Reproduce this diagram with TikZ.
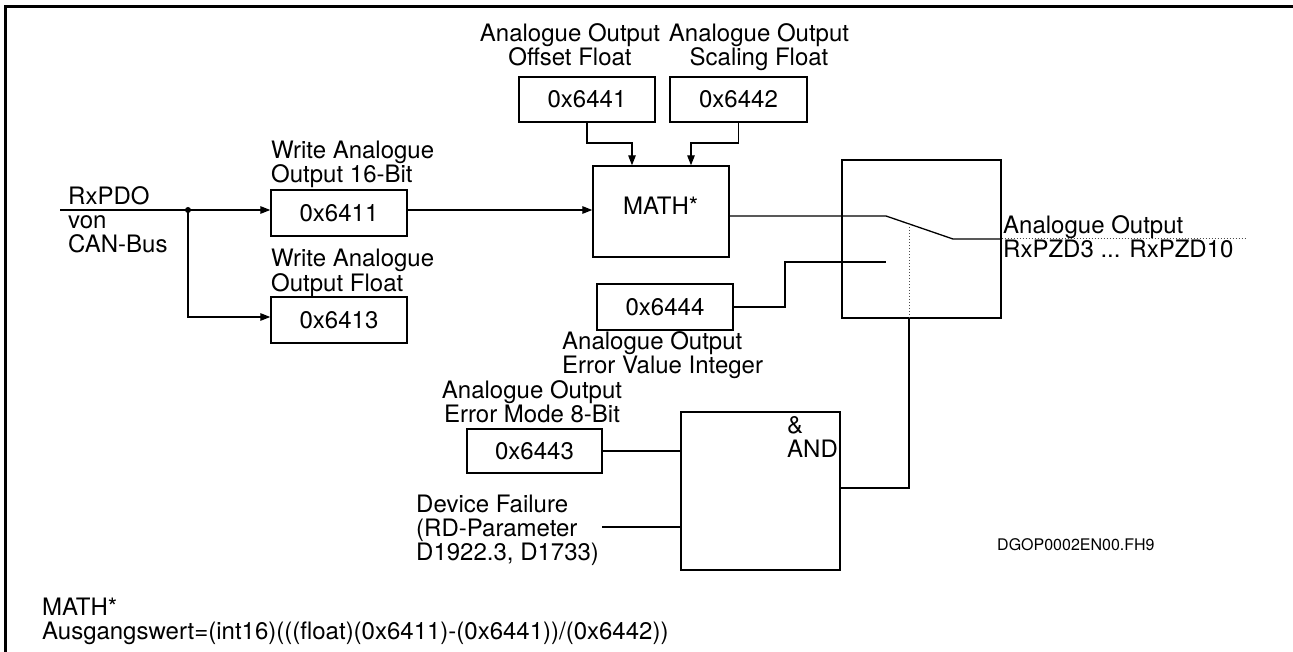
\documentclass[tikz,border=0pt]{standalone}
\usepackage{fontspec}
\setmainfont{TeX Gyre Heros}
\usetikzlibrary{arrows.meta}
\tikzset{
  every node/.style={font=\fontsize{24}{24}\selectfont},
  box/.style={draw, line width=1.4pt, inner sep=0pt, minimum width=136pt, minimum height=46pt},
  lbl/.style={inner sep=0pt, anchor=base west},
  lblc/.style={inner sep=0pt, anchor=base},
  wire/.style={line width=1.3pt},
  arr/.style={wire, -{Triangle[length=10pt,width=7.5pt]}},
  dots/.style={line width=1pt, dash pattern=on 1.2pt off 1.8pt, black!70},
  frame/.style={line width=3pt},
}
\begin{document}
\begin{tikzpicture}[x=1pt, y=-1pt]
\useasboundingbox (0,0) rectangle (1293,652);
% outer frame
\draw[frame] (5,660) -- (5,7) -- (1300,7);

% boxes
\node[box] (b6411) at (339,213) {0x6411};
\node[box] (b6413) at (339,320) {0x6413};
\node[box, minimum height=45pt] (b6441) at (587,99.5) {0x6441};
\node[box, minimum width=137pt, minimum height=45pt] (b6442) at (738.5,99.5) {0x6442};
\node[box, minimum height=91pt] (math) at (661,211.5) {};
\node[box] (b6444) at (665,307) {0x6444};
\node[box, minimum width=159pt, minimum height=158pt] (sw) at (921.5,239) {};
\node[box, minimum width=159pt, minimum height=158pt] (and) at (760.5,491) {};
\node[box, minimum width=135pt, minimum height=44pt] (b6443) at (534.5,451) {0x6443};

% texts
\node[lbl] (t1a) at (68,205) {RxPDO};
\node[lbl] (t1b) at (68,229) {von};
\node[lbl] (t1c) at (68,253) {CAN-Bus};
\node[lbl] (t2a) at (271,159) {Write Analogue};
\node[lbl] (t2b) at (271,183) {Output 16-Bit};
\node[lbl] (t3a) at (271,267) {Write Analogue};
\node[lbl] (t3b) at (271,291) {Output Float};
\node[lblc] (t4a) at (570,42) {Analogue Output};
\node[lblc] (t4b) at (570,66) {Offset Float};
\node[lblc] (t5a) at (759,42) {Analogue Output};
\node[lblc] (t5b) at (759,66) {Scaling Float};
\node[lbl] (tmath) at (623,215) {MATH*};
\node[lbl] (t6a) at (562,349) {Analogue Output};
\node[lbl] (t6b) at (562,373) {Error Value Integer};
\node[lblc] (t7a) at (532,398) {Analogue Output};
\node[lblc] (t7b) at (532,422) {Error Mode 8-Bit};
\node[lbl] (t8a) at (416,512) {Device Failure};
\node[lbl] (t8b) at (416,536) {(RD-Parameter};
\node[lbl] (t8c) at (416,560) {D1922.3, D1733)};
\node[lbl] (tand1) at (787,433) {\&};
\node[lbl] (tand2) at (787,457) {AND};
\node[lbl] (t9a) at (1003,234) {Analogue Output};
\node[lbl] (t9b) at (1003,258) {RxPZD3 ... RxPZD10};
\node[lbl, font=\fontsize{16}{16}\selectfont] (tdg) at (997,550) {DGOP0002EN00.FH9};
\node[lbl] (tf1) at (42,615) {MATH*};
\node[lbl] (tf2) at (42,639) {Ausgangswert=(int16)(((float)(0x6411)-(0x6441))/(0x6442))};

% coordinates
\coordinate (in) at (60,210);
\coordinate (dot) at (188,210);
\coordinate (r2) at (188,317);
\coordinate (m1) at (632,143);
\coordinate (m2) at (691,143);
\coordinate (s1) at (886,216);
\coordinate (s2) at (953,239);
\coordinate (s4) at (1245,239);
\coordinate (s5) at (886,262);
\coordinate (k1) at (785,262);
\coordinate (v0) at (909,224);
\coordinate (a1) at (909,488);
\coordinate (df) at (602,527);

% connectors
\draw[arr] (in) -- (b6411.west |- in);
\fill (dot) circle (3pt);
\draw[arr] (dot) -- (r2) -- (b6413.west |- r2);
\draw[arr] (b6411.east |- in) -- (math.west |- in);
\draw[arr] (b6441.south) |- (m1) -- (math.north -| m1);
\draw[arr] (b6442.south) |- (m2) -- (math.north -| m2);
\draw[wire] (math.east |- s1) -- (s1) -- (s2) -- (sw.east |- s2);
\draw[dots] (sw.east |- s2) -- (s4);
\draw[wire] (b6444.east) -| (k1) -- (s5);
\draw[dots] (v0) -- (v0 |- sw.south);
\draw[wire] (v0 |- sw.south) -- (a1) -- (and.east |- a1);
\draw[wire] (b6443.east) -- (and.west |- b6443.east);
\draw[wire] (df) -- (and.west |- df);
\end{tikzpicture}
\end{document}
